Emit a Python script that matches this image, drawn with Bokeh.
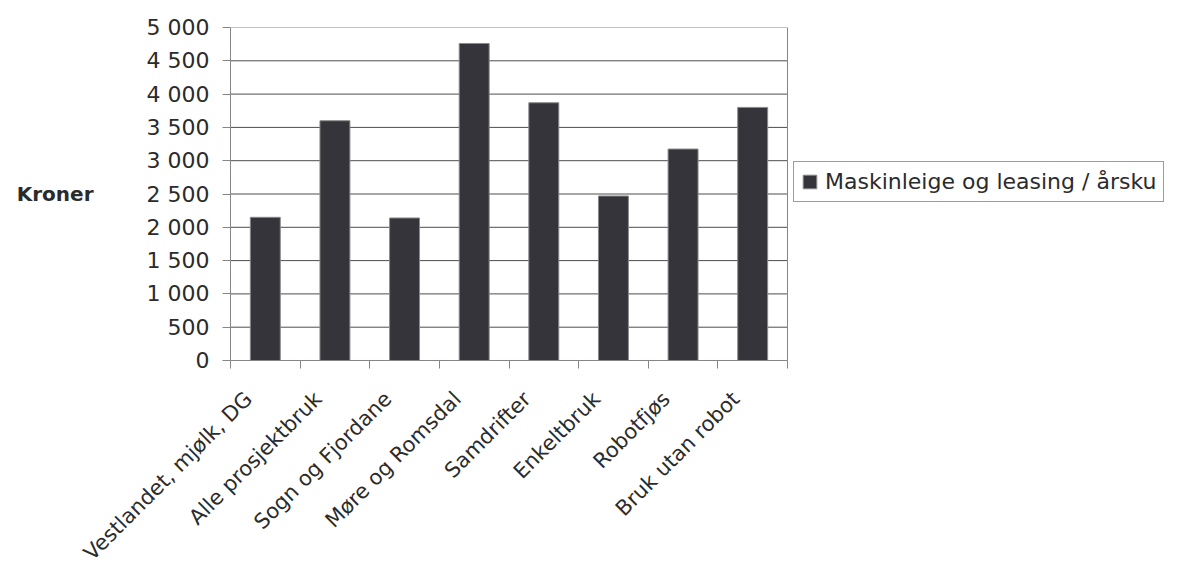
import math
from bokeh.plotting import figure
from bokeh.models import Range1d, FixedTicker, Legend, LegendItem, ColumnDataSource
from bokeh.embed import file_html
from bokeh.resources import INLINE

# ---- data ----
categories = [
    "Vestlandet, mjølk, DG",
    "Alle prosjektbruk",
    "Sogn og Fjordane",
    "Møre og Romsdal",
    "Samdrifter",
    "Enkeltbruk",
    "Robotfjøs",
    "Bruk utan robot",
]
values = [2150, 3600, 2140, 4760, 3870, 2470, 3175, 3800]
series_name = "Maskinleige og leasing / årsku"
y_ticks = [0, 500, 1000, 1500, 2000, 2500, 3000, 3500, 4000, 4500, 5000]
y_tick_labels = ["0", "500", "1 000", "1 500", "2 000", "2 500",
                 "3 000", "3 500", "4 000", "4 500", "5 000"]
y_label = "Kroner"

FONT = "DejaVu Sans"
TEXT = "#2b2b2b"
AXIS = "#8a8585"
GRID = "#4d4d4d"
BAR = "#35343a"
BAR_EDGE = "#8a8a8a"

n = len(categories)
y_max = y_ticks[-1]
x_centers = [i + 0.5 for i in range(n)]
label_shift = 0.24  # rotated labels sit a little left of the category centre
label_pos = [x - label_shift for x in x_centers]
src = ColumnDataSource(dict(x=x_centers, top=values, cat=categories))

# layout (pixels): plot box from x=230 to x=787, legend to the right of it
W, H = 1188, 578
LEFT, RIGHT_EDGE = 230, 787
frame_w = W - LEFT
x_end = n * frame_w / (RIGHT_EDGE - LEFT)

p = figure(width=W, height=H,
           x_range=Range1d(0, x_end), y_range=Range1d(0, y_max),
           output_backend="svg", toolbar_location=None,
           min_border_left=LEFT, min_border_right=0,
           min_border_top=27, min_border_bottom=218)
p.background_fill_color = "white"
p.border_fill_color = "white"
p.outline_line_color = None
p.grid.visible = False

# horizontal grid lines inside the plot box
inner = y_ticks[1:-1]
p.segment(x0=[0] * len(inner), x1=[n] * len(inner), y0=inner, y1=inner,
          line_color=GRID, line_width=1)
# plot box border (top and right)
p.segment(x0=[0, n], x1=[n, n], y0=[y_max, 0], y1=[y_max, y_max],
          line_color=AXIS, line_width=1)

r = p.vbar(x="x", top="top", bottom=0, width=0.43, source=src,
           fill_color=BAR, line_color=BAR_EDGE, line_width=1)

# y axis
ya = p.yaxis[0]
ya.ticker = FixedTicker(ticks=y_ticks)
ya.major_label_overrides = {t: l for t, l in zip(y_ticks, y_tick_labels)}
ya.axis_line_color = AXIS
ya.major_tick_line_color = AXIS
ya.major_tick_out = 8
ya.major_tick_in = 0
ya.minor_tick_line_color = None
ya.major_label_standoff = 13
ya.major_label_text_font = FONT
ya.major_label_text_font_size = "22px"
ya.major_label_text_color = TEXT
ya.axis_label = y_label
ya.axis_label_orientation = "horizontal"
ya.axis_label_standoff = 50
ya.axis_label_text_font = FONT
ya.axis_label_text_font_size = "20px"
ya.axis_label_text_font_style = "bold"
ya.axis_label_text_color = TEXT

# x axis
xa = p.xaxis[0]
xa.bounds = (0, n)
xa.ticker = FixedTicker(ticks=label_pos, minor_ticks=list(range(n + 1)))
xa.major_label_overrides = {x: c for x, c in zip(label_pos, categories)}
xa.axis_line_color = AXIS
xa.major_tick_line_color = None
xa.minor_tick_line_color = AXIS
xa.minor_tick_out = 8
xa.minor_tick_in = 0
xa.major_label_orientation = math.pi / 4
xa.major_label_standoff = 27
xa.major_label_text_font = FONT
xa.major_label_text_font_size = "21px"
xa.major_label_text_color = TEXT

legend = Legend(items=[LegendItem(label=series_name, renderers=[r])],
                location=(RIGHT_EDGE - LEFT + 6, 158),
                label_text_font=FONT, label_text_font_size="22px",
                label_text_color=TEXT,
                glyph_width=17, glyph_height=17, label_standoff=7,
                padding=7, spacing=0, margin=0,
                border_line_color="#3a3a3a", border_line_width=1,
                background_fill_color="white", background_fill_alpha=1)
p.add_layout(legend, "center")

open("out.html", "w").write(file_html(p, INLINE))
